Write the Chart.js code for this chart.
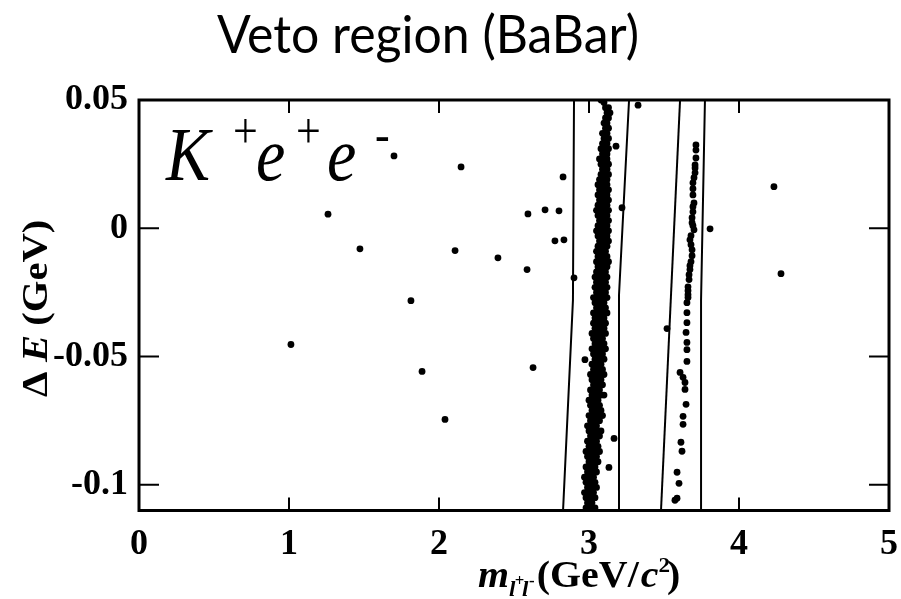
<!DOCTYPE html>
<html lang="en">
<head>
    <meta charset="UTF-8">
    <title>Veto region (BaBar)</title>
    <script src="https://cdn.jsdelivr.net/npm/chart.js"></script>
    <style>
        html, body { margin: 0; padding: 0; background: #fff; }
    </style>
</head>
<body>
    <canvas id="vetoChart" width="901" height="599"></canvas>

    <script>
        // Axis ticks
        const xTicks = [0, 1, 2, 3, 4, 5];
        const xTickLabels = ['0', '1', '2', '3', '4', '5'];
        const yTicks = [-0.1, -0.05, 0, 0.05];
        const yTickLabels = ['-0.1', '-0.05', '0', '0.05'];

        // Veto boundaries, [m_ll, dE]
        const vetoJpsiLow = [[2.900, 0.05], [2.893, -0.028], [2.827, -0.11]];
        const vetoJpsiHigh = [[3.267, 0.05], [3.200, -0.026], [3.200, -0.11]];
        const vetoPsi2Low = [[3.607, 0.05], [3.480, -0.11]];
        const vetoPsi2High = [[3.773, 0.05], [3.747, -0.028], [3.747, -0.11]];

        // J/psi band: one dE per row, masses of the events in that row
        const jpsiRowDE = [
            0.049, 0.047, 0.045, 0.043, 0.041, 0.039, 0.037, 0.035, 0.033, 0.031,
            0.029, 0.027, 0.025, 0.023, 0.021, 0.019, 0.017, 0.015, 0.013, 0.011,
            0.009, 0.007, 0.005, 0.003, 0.001, -0.001, -0.003, -0.005, -0.007, -0.009,
            -0.011, -0.013, -0.015, -0.017, -0.019, -0.021, -0.023, -0.025, -0.027, -0.029,
            -0.031, -0.033, -0.035, -0.037, -0.039, -0.041, -0.043, -0.045, -0.047, -0.049,
            -0.051, -0.053, -0.055, -0.057, -0.059, -0.061, -0.063, -0.065, -0.067, -0.069,
            -0.071, -0.073, -0.075, -0.077, -0.079, -0.081, -0.083, -0.085, -0.087, -0.089,
            -0.091, -0.093, -0.095, -0.097, -0.099, -0.101, -0.103, -0.105, -0.107, -0.109
        ];
        const jpsiRowMass = [
            [3.10], [3.11, 3.13], [3.12, 3.14], [3.11, 3.13], [3.10, 3.12],
            [3.11, 3.13], [3.09, 3.12], [3.10, 3.13], [3.09, 3.11, 3.12], [3.08, 3.11, 3.13],
            [3.09, 3.12], [3.07, 3.10, 3.12], [3.08, 3.11, 3.13], [3.09, 3.12], [3.08, 3.10, 3.13],
            [3.07, 3.10, 3.12], [3.06, 3.09, 3.12], [3.07, 3.10, 3.13], [3.06, 3.09, 3.12], [3.07, 3.10, 3.13],
            [3.06, 3.09, 3.12], [3.05, 3.08, 3.11, 3.13], [3.06, 3.09, 3.12], [3.07, 3.10, 3.13], [3.06, 3.09, 3.12],
            [3.05, 3.08, 3.11, 3.13], [3.06, 3.09, 3.12], [3.07, 3.10, 3.13], [3.06, 3.09, 3.12], [3.05, 3.08, 3.11],
            [3.06, 3.09, 3.12], [3.05, 3.08, 3.11, 3.13], [3.06, 3.09, 3.12], [3.05, 3.08, 3.11], [3.04, 3.07, 3.10, 3.12],
            [3.05, 3.08, 3.11], [3.04, 3.07, 3.10, 3.12], [3.05, 3.08, 3.11], [3.03, 3.06, 3.09, 3.12], [3.04, 3.07, 3.10],
            [3.05, 3.08, 3.11], [3.03, 3.06, 3.09, 3.12], [3.04, 3.07, 3.10], [3.03, 3.06, 3.09, 3.11], [3.04, 3.07, 3.10],
            [3.02, 3.05, 3.08, 3.11], [3.03, 3.06, 3.09], [3.04, 3.07, 3.10], [3.02, 3.05, 3.08, 3.11], [3.03, 3.06, 3.09],
            [3.04, 3.07, 3.10], [3.02, 3.05, 3.08], [3.03, 3.06, 3.09], [3.01, 3.04, 3.07, 3.10], [3.02, 3.05, 3.08],
            [3.03, 3.06, 3.09], [3.01, 3.04, 3.07], [3.02, 3.05, 3.08, 3.10], [3.00, 3.03, 3.06], [3.01, 3.04, 3.07],
            [3.02, 3.05, 3.08], [3.00, 3.03, 3.06, 3.09], [3.01, 3.04, 3.07], [2.99, 3.02, 3.05], [3.00, 3.03, 3.06, 3.08],
            [3.01, 3.04, 3.07], [2.99, 3.02, 3.05], [3.00, 3.03, 3.06], [2.98, 3.01, 3.04, 3.07], [2.99, 3.02, 3.05],
            [3.00, 3.03, 3.06], [2.98, 3.01, 3.04], [2.99, 3.02, 3.05], [2.97, 3.00, 3.03], [2.98, 3.01, 3.04],
            [2.99, 3.02, 3.05], [2.97, 3.00, 3.03], [2.98, 3.01, 3.04], [2.99, 3.02], [2.98, 3.01, 3.04]
        ];

        // psi(2S) band events, [m_ll, dE]
        const psi2Events = [
            [3.713, 0.0325], [3.713, 0.0305], [3.713, 0.0274], [3.707, 0.0247], [3.707, 0.0235],
            [3.707, 0.0216], [3.700, 0.0197], [3.693, 0.0177], [3.693, 0.0154], [3.693, 0.0130],
            [3.700, 0.0099], [3.693, 0.0084], [3.693, 0.0064], [3.687, 0.0041], [3.687, 0.0022],
            [3.693, 0.0010], [3.700, -0.0006], [3.680, -0.0029], [3.673, -0.0045], [3.680, -0.0064],
            [3.687, -0.0084], [3.687, -0.0107], [3.680, -0.0130], [3.673, -0.0146], [3.673, -0.0161],
            [3.667, -0.0181], [3.667, -0.0200], [3.660, -0.0228], [3.660, -0.0243], [3.660, -0.0259],
            [3.660, -0.0270], [3.653, -0.0290], [3.653, -0.0329], [3.653, -0.0368], [3.647, -0.0406],
            [3.653, -0.0445], [3.653, -0.0473], [3.653, -0.0519], [3.607, -0.0562], [3.627, -0.0581],
            [3.640, -0.0601], [3.640, -0.0628], [3.647, -0.0686], [3.627, -0.0733], [3.627, -0.0764],
            [3.613, -0.0834], [3.620, -0.0869], [3.587, -0.0951], [3.600, -0.0994], [3.587, -0.1052],
            [3.573, -0.1060]
        ];

        // everything else, [m_ll, dE]
        const otherEvents = [
            [1.013, -0.0453], [1.260, 0.0055], [1.473, -0.0080], [1.700, 0.0282], [1.813, -0.0282],
            [1.887, -0.0558], [2.040, -0.0745], [2.107, -0.0087], [2.147, 0.0239], [2.393, -0.0115],
            [2.587, -0.0161], [2.593, 0.0056], [2.627, -0.0543], [2.707, 0.0072], [2.773, -0.0049],
            [2.800, 0.0068], [2.827, 0.0200], [2.833, -0.0045], [2.900, -0.0193], [2.973, -0.0512],
            [3.080, 0.0500], [3.180, 0.0320], [3.133, -0.0932], [3.167, -0.0819], [3.220, 0.0080],
            [3.327, 0.0480], [3.520, -0.0391], [3.807, -0.0002], [4.233, 0.0162], [4.280, -0.0177]
        ];

        const toXY = pts => pts.map(([m, d]) => ({ x: m, y: d }));
        const jpsiEvents = jpsiRowDE.flatMap((d, i) => jpsiRowMass[i].map(m => [m, d]));

        const eventStyle = { pointRadius: 3.4, pointHoverRadius: 3.4, backgroundColor: '#000', borderWidth: 0, showLine: false };
        const vetoStyle = { showLine: true, pointRadius: 0, borderColor: '#000', borderWidth: 2, tension: 0, fill: false };

        // box with inward ticks on all four sides
        const framePlugin = {
            id: 'frame',
            afterDatasetsDraw(chart) {
                const { ctx, chartArea: a, scales: { x, y } } = chart;
                ctx.save();
                ctx.strokeStyle = '#000';
                ctx.lineWidth = 2;
                ctx.beginPath();
                xTicks.forEach(v => {
                    const px = x.getPixelForValue(v);
                    ctx.moveTo(px, a.bottom); ctx.lineTo(px, a.bottom - 13);
                    ctx.moveTo(px, a.top); ctx.lineTo(px, a.top + 13);
                });
                yTicks.forEach(v => {
                    const py = y.getPixelForValue(v);
                    ctx.moveTo(a.left, py); ctx.lineTo(a.left + 20, py);
                    ctx.moveTo(a.right, py); ctx.lineTo(a.right - 20, py);
                });
                ctx.stroke();
                ctx.lineWidth = 3;
                ctx.strokeRect(a.left, a.top, a.right - a.left, a.bottom - a.top);
                ctx.restore();
            }
        };

        // a run of text pieces: [text, font, x, y] relative to the origin
        function drawRuns(ctx, x0, y0, runs, sx, sy) {
            ctx.save();
            ctx.translate(x0, y0);
            ctx.scale(sx, sy);
            runs.forEach(([text, font, x, y]) => {
                ctx.font = font;
                ctx.fillText(text, x, y);
            });
            ctx.restore();
        }

        const serif = '"Liberation Serif"';

        const labelsPlugin = {
            id: 'labels',
            afterDraw(chart) {
                const { ctx } = chart;
                ctx.save();
                ctx.fillStyle = '#000';
                ctx.textBaseline = 'alphabetic';
                ctx.textAlign = 'left';

                // title
                ctx.font = '48px Lato';
                const tw = ctx.measureText('Veto region (BaBar)').width;
                ctx.save();
                ctx.translate(217, 53);
                ctx.scale(422 / tw, 1.1);
                ctx.fillText('Veto region (BaBar)', 0, 0);
                ctx.restore();

                // decay mode
                const it = 'italic 66px ' + serif;
                const sup = '44px ' + serif;
                drawRuns(ctx, 0, 180, [
                    ['K', it, 166, 0], ['+', sup, 233, -28], ['e', it, 256, 0],
                    ['+', sup, 296, -28], ['e', it, 327, 0], ['-', sup, 375, -25]
                ], 1, 1.15);

                // x axis title
                const bd = 'bold 38px ' + serif;
                const bi = 'italic bold 38px ' + serif;
                const sb = 'italic bold 22px ' + serif;
                const ss = 'bold 16px ' + serif;
                drawRuns(ctx, 478, 587, [
                    ['m', bi, 0, 0], ['l', sb, 29.5, 9], ['+', ss, 35, -1], ['l', sb, 42, 9], ['-', ss, 48.5, -1],
                    ['(GeV/', bd, 56, 0], ['c', bi, 155, 0], ['2', 'bold 22px ' + serif, 172, -15], [')', bd, 180, 0]
                ], 1.05, 1);

                // y axis title
                ctx.save();
                ctx.translate(47, 397);
                ctx.rotate(-Math.PI / 2);
                const yb = 'bold 36px ' + serif;
                drawRuns(ctx, 0, 0, [
                    ['\u0394', yb, 0, 0], ['E', 'italic bold 36px ' + serif, 31, 0], ['(GeV)', yb, 63, 0]
                ], 1.13, 1);
                ctx.restore();

                ctx.restore();
            }
        };

        new Chart(document.getElementById('vetoChart'), {
            type: 'scatter',
            data: {
                datasets: [
                    { data: toXY(vetoJpsiLow), ...vetoStyle },
                    { data: toXY(vetoJpsiHigh), ...vetoStyle },
                    { data: toXY(vetoPsi2Low), ...vetoStyle },
                    { data: toXY(vetoPsi2High), ...vetoStyle },
                    { data: toXY(jpsiEvents), ...eventStyle },
                    { data: toXY(psi2Events), ...eventStyle },
                    { data: toXY(otherEvents), ...eventStyle }
                ]
            },
            options: {
                responsive: false,
                animation: false,
                devicePixelRatio: 1,
                layout: { padding: { left: 0, right: 12, top: 100, bottom: 0 } },
                plugins: { legend: { display: false }, tooltip: { enabled: false } },
                scales: {
                    x: {
                        type: 'linear',
                        min: 0,
                        max: 5,
                        grid: { display: false, drawTicks: false },
                        border: { display: false },
                        afterBuildTicks: s => { s.ticks = xTicks.map(v => ({ value: v })); },
                        afterFit: s => { s.height = 88.5; s.paddingLeft = 0; s.paddingRight = 0; },
                        ticks: {
                            padding: 13,
                            color: '#000',
                            font: { family: 'Liberation Serif', size: 36, weight: 'bold' },
                            callback: v => xTickLabels[xTicks.indexOf(v)]
                        }
                    },
                    y: {
                        type: 'linear',
                        min: -0.11,
                        max: 0.05,
                        grid: { display: false, drawTicks: false },
                        border: { display: false },
                        afterBuildTicks: s => { s.ticks = yTicks.map(v => ({ value: v })); },
                        afterFit: s => { s.width = 139; s.paddingTop = 0; s.paddingBottom = 0; },
                        ticks: {
                            padding: 11,
                            color: '#000',
                            font: { family: 'Liberation Serif', size: 36, weight: 'bold' },
                            callback: v => yTickLabels[yTicks.indexOf(v)]
                        }
                    }
                }
            },
            plugins: [framePlugin, labelsPlugin]
        });
    </script>
</body>
</html>
